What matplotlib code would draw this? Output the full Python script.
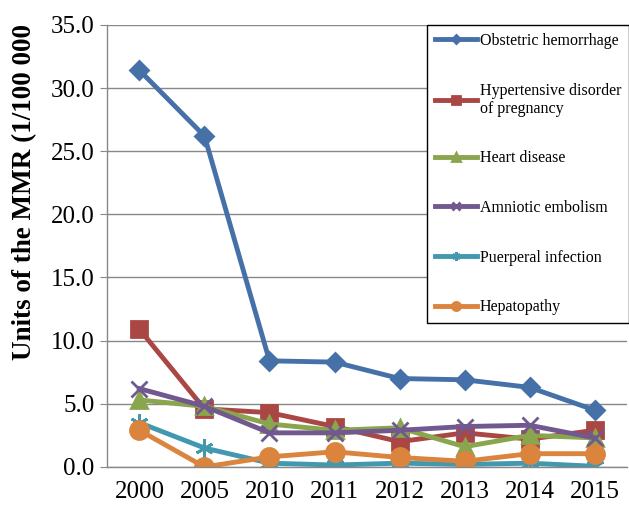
import numpy as np
import matplotlib.pyplot as plt

years = ["2000", "2005", "2010", "2011", "2012", "2013", "2014", "2015"]

obstetric = [31.4, 26.2, 8.4, 8.3, 7.0, 6.9, 6.3, 4.5]
hypertensive = [10.9, 4.6, 4.3, 3.2, 2.0, 2.7, 2.2, 2.9]
heart = [5.3, 4.8, 3.4, 2.9, 3.1, 1.6, 2.5, 2.3]
amniotic = [6.2, 4.8, 2.7, 2.7, 2.9, 3.2, 3.3, 2.3]
puerperal = [3.5, 1.5, 0.3, 0.15, 0.3, 0.2, 0.3, 0.05]
hepatopathy = [2.9, 0.0, 0.8, 1.2, 0.75, 0.45, 1.05, 1.05]

labels = ["Obstetric hemorrhage", "Hypertensive disorder\nof pregnancy",
          "Heart disease", "Amniotic embolism", "Puerperal infection",
          "Hepatopathy"]
colors = ["#4571A8", "#AA4643", "#89A54E", "#71588F", "#4198AF", "#DB843D"]
markers = ["D", "s", "^", "x", (6, 2, 0), "o"]
sizes = [9, 12, 12, 12, 13, 13]

plt.rcParams["font.family"] = ["Liberation Serif", "DejaVu Serif"]

fig = plt.figure(figsize=(6.29, 5.07), dpi=100)
ax = fig.add_axes([0.170, 0.079, 0.827, 0.872])

x = np.arange(len(years))
series = [obstetric, hypertensive, heart, amniotic, puerperal, hepatopathy]
handles = []
for vals, lab, c, m, s in zip(series, labels, colors, markers, sizes):
    h, = ax.plot(x, vals, color=c, lw=3.5, marker=m, markersize=s,
                 markeredgecolor=c, markeredgewidth=2, label=lab)
    handles.append(h)

ax.set_xlim(-0.5, 7.5)
ax.set_ylim(0, 35)
ax.set_yticks(np.arange(0, 36, 5))
ax.set_yticklabels([f"{v:.1f}" for v in np.arange(0, 36, 5)])
ax.set_xticks(x)
ax.set_xticklabels(years)
ax.tick_params(axis="both", labelsize=18, color="#888888")
ax.tick_params(axis="x", length=0, pad=10)
ax.tick_params(axis="y", length=5, pad=4)
ax.grid(axis="y", color="#888888", lw=1)
ax.set_axisbelow(True)
for sp in ["top", "right"]:
    ax.spines[sp].set_visible(False)
for sp in ["left", "bottom"]:
    ax.spines[sp].set_color("#888888")
    ax.spines[sp].set_linewidth(1)

fig.text(0.039, 0.622, "Units of the MMR (1/100 000", rotation=90,
         fontsize=19.5, fontweight="bold", ha="center", va="center")

leg = ax.legend(handles=handles, loc="upper left",
                bbox_to_anchor=(427 / 629, 1 - 25 / 507), bbox_transform=fig.transFigure,
                fontsize=11.5, frameon=True, fancybox=False, edgecolor="black",
                handlelength=2.6, handletextpad=0.2, labelspacing=2.1,
                borderpad=0.5, markerscale=0.45, borderaxespad=0)
leg.get_frame().set_linewidth(1)
leg.get_frame().set_facecolor("white")
leg.get_frame().set_alpha(1)

fig.savefig("out.png", dpi=100)
